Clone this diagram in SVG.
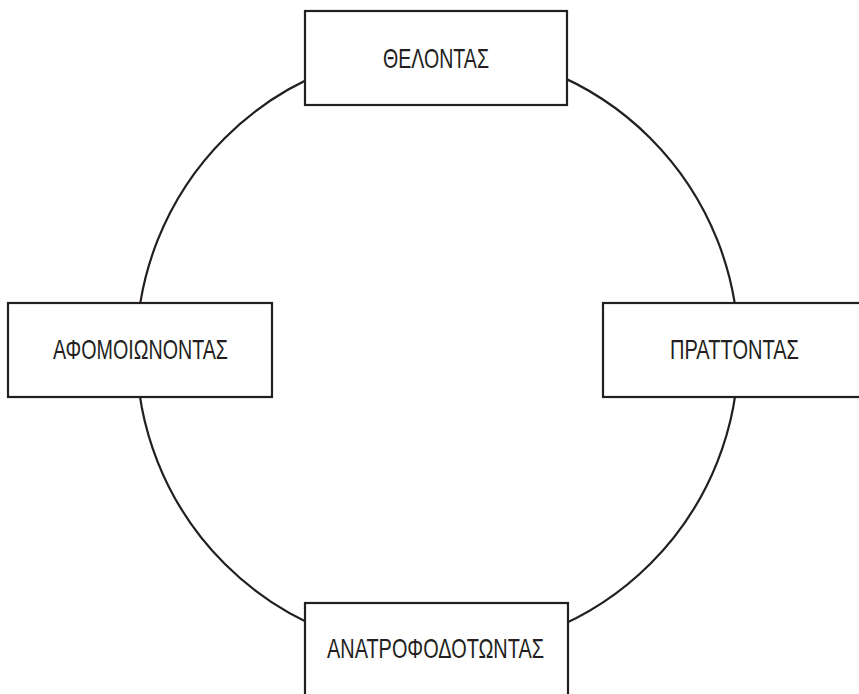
<svg xmlns="http://www.w3.org/2000/svg" width="859" height="694" viewBox="0 0 859 694">
<style>
.box{fill:#fff;stroke:#231f20;stroke-width:2.2}
.lbl{font-family:"Liberation Sans Narrow","Liberation Sans",Arial,sans-serif;font-size:28px;fill:#231f20;text-anchor:middle}
.ring{fill:none;stroke:#231f20;stroke-width:2.2}
</style>
<rect width="859" height="694" fill="#fff"/>
<g id="connectors">
<circle class="ring" cx="437.5" cy="351" r="301"/>
</g>
<g id="node-top">
<rect class="box" x="305" y="11" width="262" height="94"/>
<text class="lbl" x="436" y="68" textLength="106" lengthAdjust="spacingAndGlyphs">ΘΕΛΟΝΤΑΣ</text>
</g>
<g id="node-left">
<rect class="box" x="8" y="303" width="264" height="94"/>
<text class="lbl" x="140.5" y="359" textLength="175" lengthAdjust="spacingAndGlyphs">ΑΦΟΜΟΙΩΝΟΝΤΑΣ</text>
</g>
<g id="node-right">
<rect class="box" x="603" y="303" width="264" height="94"/>
<text class="lbl" x="734.5" y="359" textLength="129" lengthAdjust="spacingAndGlyphs">ΠΡΑΤΤΟΝΤΑΣ</text>
</g>
<g id="node-bottom">
<rect class="box" x="305" y="603" width="263" height="100"/>
<text class="lbl" x="435.5" y="658" textLength="217" lengthAdjust="spacingAndGlyphs">ΑΝΑΤΡΟΦΟΔΟΤΩΝΤΑΣ</text>
</g>
</svg>
